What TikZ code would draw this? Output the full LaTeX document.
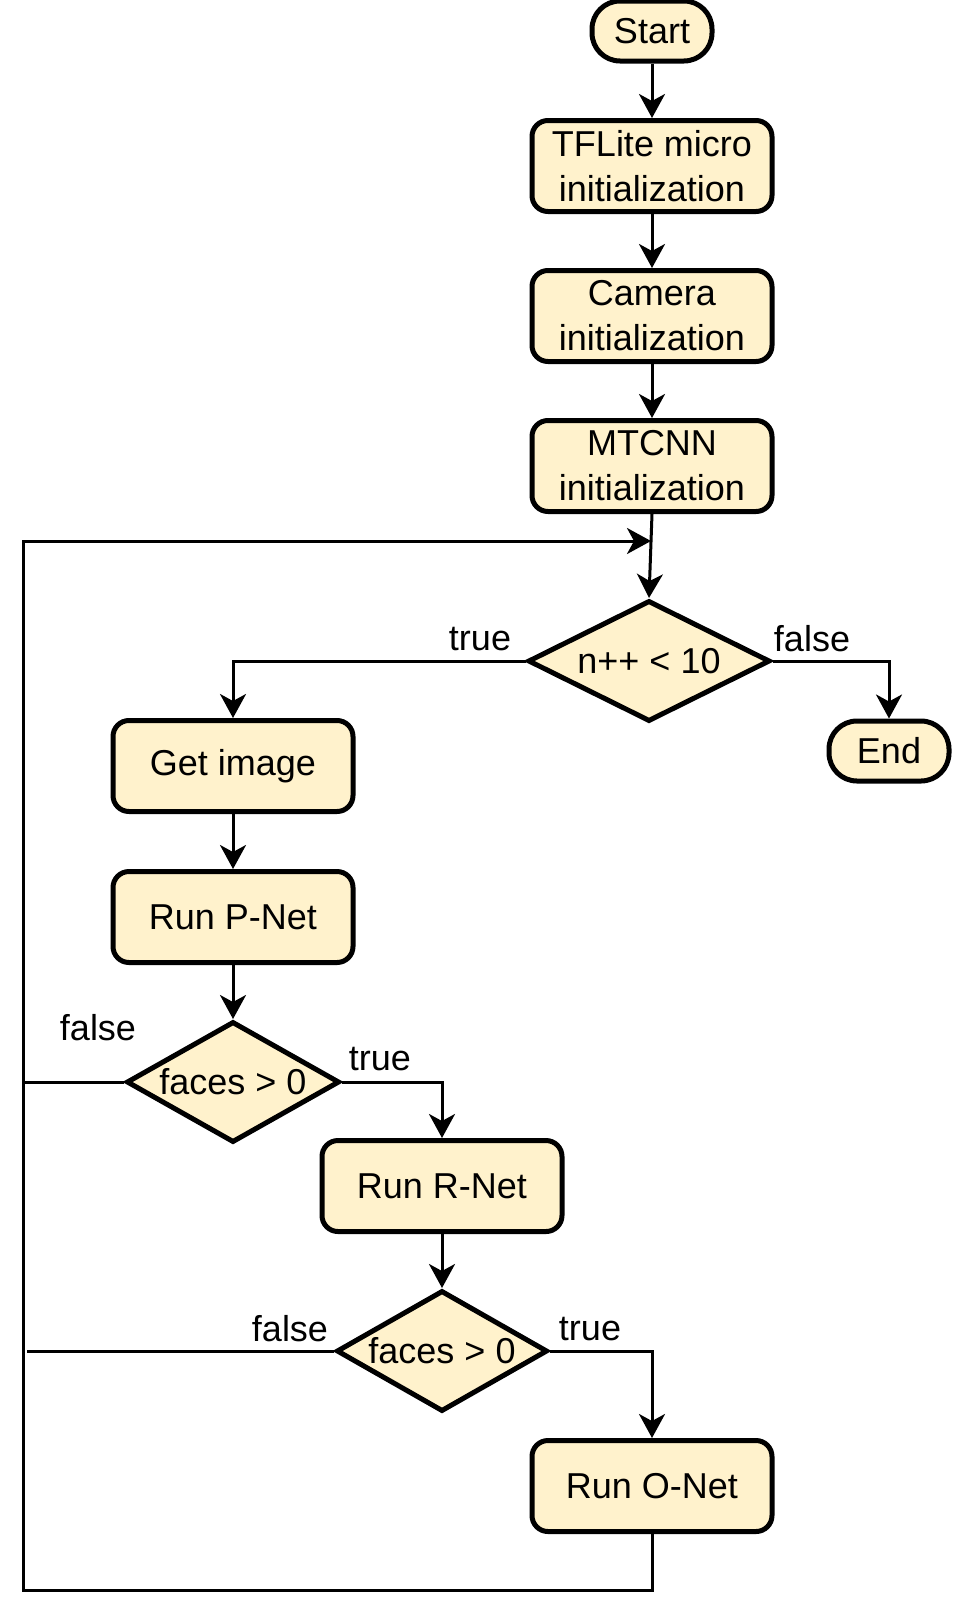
\documentclass[tikz,border=0pt]{standalone}
\usepackage{fontspec}
\setmainfont{Liberation Sans}
\usetikzlibrary{shapes.geometric,arrows.meta}
\definecolor{boxfill}{HTML}{FFF2CC}
\tikzset{
  x=1pt, y=-1pt,
  base/.style={draw=black, line width=5pt, fill=boxfill, font=\fontsize{36}{45}\selectfont, align=center, inner sep=0pt},
  procbox/.style={base, rectangle, rounded corners=16pt, minimum width=240pt, minimum height=91pt},
  term/.style={base, rectangle, rounded corners=28pt, minimum width=120pt, minimum height=60pt},
  decision/.style={base, diamond, aspect=2, minimum width=242pt, minimum height=121pt},
  conn/.style={line width=3pt, draw=black},
  arr/.style={conn, -{Stealth[length=24pt, width=26pt, inset=7pt]}},
  lbl/.style={font=\fontsize{36}{45}\selectfont, inner sep=0pt}
}
\begin{document}
\begin{tikzpicture}
\useasboundingbox (0,0) rectangle (954,1620);
\node[term] (start) at (652,31) {Start};
\node[procbox] (tfl) at (652,166) {TFLite micro\\initialization};
\node[procbox] (cam) at (652,316) {Camera\\initialization};
\node[procbox] (mtc) at (652,466) {MTCNN\\initialization};
\node[decision] (d1) at (649,661) {\makebox[0pt]{n++ < 10}};
\node[procbox] (get) at (233,766) {Get image};
\node[term] (end) at (889,751) {End};
\node[procbox] (pnet) at (233,917) {Run P-Net};
\node[decision, minimum width=213pt] (d2) at (233,1082) {\makebox[0pt]{faces > 0}};
\node[procbox] (rnet) at (442,1186) {Run R-Net};
\node[decision, minimum width=211pt] (d3) at (442,1351) {\makebox[0pt]{faces > 0}};
\node[procbox] (onet) at (652,1486) {Run O-Net};

\coordinate (lb) at (23,1590);
\coordinate (lt) at (23,541);
\coordinate (join) at (651,541);
\coordinate (d3end) at (27,1351);

\draw[arr] (start) -- (tfl);
\draw[arr] (tfl) -- (cam);
\draw[arr] (cam) -- (mtc);
\draw[arr] (mtc.south) -- (d1.north);
\draw[arr] (d1.west) -| (get.north);
\draw[arr] (d1.east) -| (end.north);
\draw[arr] (get) -- (pnet);
\draw[arr] (pnet.south) -- (d2.north);
\draw[conn] (d2.west) -- (d2.west -| lt);
\draw[arr] (d2.east) -| (rnet.north);
\draw[arr] (rnet.south) -- (d3.north);
\draw[conn] (d3.west) -- (d3end);
\draw[arr] (d3.east) -| (onet.north);
\draw[arr] (onet.south) |- (lb) -- (lt) -- (join);

\node[lbl] (t1) at (480,639) {true};
\node[lbl] (f1) at (812,639) {false};
\node[lbl] (f2) at (98,1028) {false};
\node[lbl] (t2) at (380,1059) {true};
\node[lbl] (f3) at (290,1329) {false};
\node[lbl] (t3) at (590,1329) {true};
\end{tikzpicture}
\end{document}
